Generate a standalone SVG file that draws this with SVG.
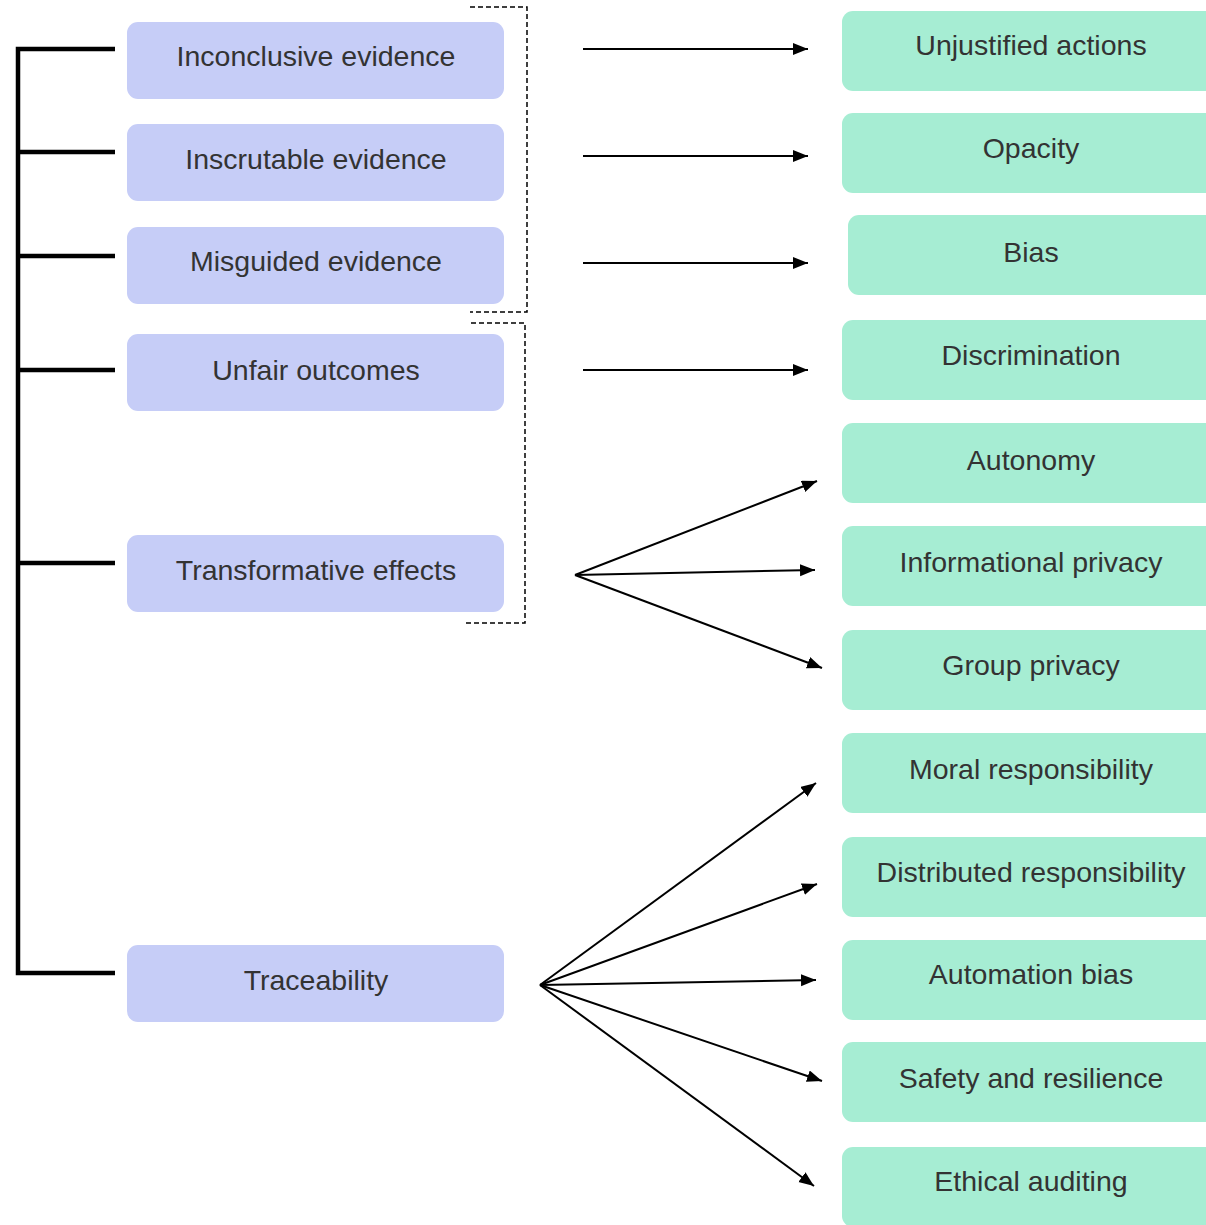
<svg xmlns="http://www.w3.org/2000/svg" width="1206" height="1225" viewBox="0 0 1206 1225">
<defs>
<marker id="ah" markerWidth="16" markerHeight="13" refX="15" refY="6" orient="auto" markerUnits="userSpaceOnUse">
<path d="M0,0 L15,6 L0,12 z" fill="#000"/>
</marker>
<style>
.l{fill:#c6cdf7}
.g{fill:#a6edd3}
.t{font-family:"Liberation Sans",Arial,sans-serif;font-size:28.5px;fill:#333;text-anchor:middle}
.a{stroke:#000;stroke-width:2;fill:none;marker-end:url(#ah)}
.br{stroke:#000;stroke-width:4.5;fill:none}
.ds{stroke:#000;stroke-width:1.5;fill:none;stroke-dasharray:5,3}
</style>
</defs>
<rect width="1206" height="1225" fill="#fff"/>
<g id="connectors">
<path class="br" d="M115,49 H18 V973 H115 M18,152 H115 M18,256 H115 M18,370 H115 M18,563 H115"/>
<path class="ds" d="M470,7 H527 V312 H470"/>
<path class="ds" d="M471,323 H525 V623 H466"/>
<line class="a" x1="583" y1="49" x2="808" y2="49"/>
<line class="a" x1="583" y1="156" x2="808" y2="156"/>
<line class="a" x1="583" y1="263" x2="808" y2="263"/>
<line class="a" x1="583" y1="370" x2="808" y2="370"/>
<line class="a" x1="575" y1="575" x2="817" y2="481"/>
<line class="a" x1="575" y1="575" x2="815" y2="570"/>
<line class="a" x1="575" y1="575" x2="822" y2="668"/>
<line class="a" x1="540" y1="985" x2="816" y2="783"/>
<line class="a" x1="540" y1="985" x2="817" y2="884"/>
<line class="a" x1="540" y1="985" x2="816" y2="980"/>
<line class="a" x1="540" y1="985" x2="822" y2="1081"/>
<line class="a" x1="540" y1="985" x2="814" y2="1186"/>
</g>
<g id="n-inconclusive"><rect class="l" x="127" y="22" width="377" height="77" rx="11"/><text class="t" x="316" y="66">Inconclusive evidence</text></g>
<g id="n-inscrutable"><rect class="l" x="127" y="124" width="377" height="77" rx="11"/><text class="t" x="316" y="169">Inscrutable evidence</text></g>
<g id="n-misguided"><rect class="l" x="127" y="227" width="377" height="77" rx="11"/><text class="t" x="316" y="271">Misguided evidence</text></g>
<g id="n-unfair"><rect class="l" x="127" y="334" width="377" height="77" rx="11"/><text class="t" x="316" y="380">Unfair outcomes</text></g>
<g id="n-transformative"><rect class="l" x="127" y="535" width="377" height="77" rx="11"/><text class="t" x="316" y="580">Transformative effects</text></g>
<g id="n-traceability"><rect class="l" x="127" y="945" width="377" height="77" rx="11"/><text class="t" x="316" y="990">Traceability</text></g>
<g id="n-unjustified"><rect class="g" x="842" y="11" width="380" height="80" rx="11"/><text class="t" x="1031" y="55">Unjustified actions</text></g>
<g id="n-opacity"><rect class="g" x="842" y="113" width="380" height="80" rx="11"/><text class="t" x="1031" y="158">Opacity</text></g>
<g id="n-bias"><rect class="g" x="848" y="215" width="380" height="80" rx="11"/><text class="t" x="1031" y="262">Bias</text></g>
<g id="n-discrimination"><rect class="g" x="842" y="320" width="380" height="80" rx="11"/><text class="t" x="1031" y="365">Discrimination</text></g>
<g id="n-autonomy"><rect class="g" x="842" y="423" width="380" height="80" rx="11"/><text class="t" x="1031" y="470">Autonomy</text></g>
<g id="n-informational"><rect class="g" x="842" y="526" width="380" height="80" rx="11"/><text class="t" x="1031" y="572">Informational privacy</text></g>
<g id="n-group"><rect class="g" x="842" y="630" width="380" height="80" rx="11"/><text class="t" x="1031" y="675">Group privacy</text></g>
<g id="n-moral"><rect class="g" x="842" y="733" width="380" height="80" rx="11"/><text class="t" x="1031" y="779">Moral responsibility</text></g>
<g id="n-distributed"><rect class="g" x="842" y="837" width="380" height="80" rx="11"/><text class="t" x="1031" y="882">Distributed responsibility</text></g>
<g id="n-automation"><rect class="g" x="842" y="940" width="380" height="80" rx="11"/><text class="t" x="1031" y="984">Automation bias</text></g>
<g id="n-safety"><rect class="g" x="842" y="1042" width="380" height="80" rx="11"/><text class="t" x="1031" y="1088">Safety and resilience</text></g>
<g id="n-ethical"><rect class="g" x="842" y="1147" width="380" height="80" rx="11"/><text class="t" x="1031" y="1191">Ethical auditing</text></g>
</svg>
